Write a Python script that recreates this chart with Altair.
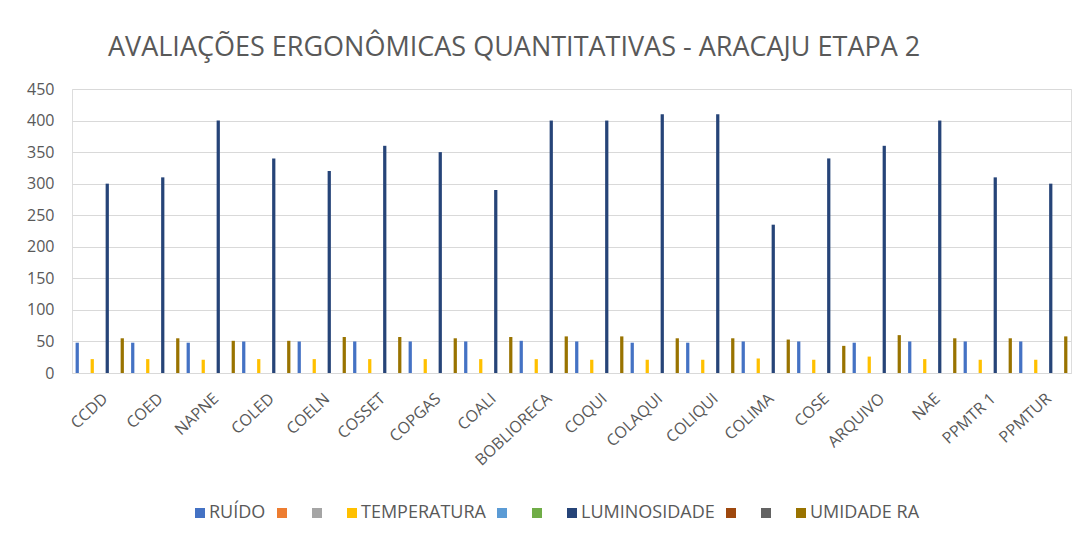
import altair as alt
import pandas as pd

categories = ["CCDD", "COED", "NAPNE", "COLED", "COELN", "COSSET", "COPGAS", "COALI",
              "BOBLIORECA", "COQUI", "COLAQUI", "COLIQUI", "COLIMA", "COSE", "ARQUIVO",
              "NAE", "PPMTR 1", "PPMTUR"]
ruido = [48, 48, 48, 50, 50, 50, 50, 50, 51, 50, 48, 48, 50, 50, 48, 50, 50, 50]
temperatura = [22, 22, 21, 22, 22, 22, 22, 22, 22, 21, 21, 21, 23, 21, 26, 22, 21, 21]
luminosidade = [300, 310, 400, 340, 320, 360, 350, 290, 400, 400, 410, 410, 235, 340, 360, 400, 310, 300]
umidade = [55, 55, 51, 51, 57, 57, 55, 57, 58, 58, 55, 55, 53, 43, 60, 55, 55, 58]

series_names = ["RUÍDO", "S2", "S3", "TEMPERATURA", "S5", "S6", "LUMINOSIDADE", "S8", "S9", "UMIDADE RA"]
series_colors = ["#4472C4", "#ED7D31", "#A5A5A5", "#FFC000", "#5B9BD5", "#70AD47",
                 "#264478", "#9E480E", "#636363", "#997300"]

rows = []
for name, vals in [("RUÍDO", ruido), ("TEMPERATURA", temperatura),
                   ("LUMINOSIDADE", luminosidade), ("UMIDADE RA", umidade)]:
    for c, v in zip(categories, vals):
        rows.append({"categoria": c, "serie": name, "valor": v})
df = pd.DataFrame(rows)

FONT = "Open Sans"
GRAY = "#595959"

chart = alt.Chart(df).mark_bar().encode(
    x=alt.X("categoria:N", sort=categories,
            scale=alt.Scale(paddingInner=0.13, paddingOuter=0.065),
            axis=alt.Axis(title=None, labelAngle=-43, labelFontSize=16, labelColor=GRAY,
                          labelFont=FONT, ticks=False, domainColor="#D9D9D9",
                          labelPadding=17)),
    xOffset=alt.XOffset("serie:N", scale=alt.Scale(domain=series_names, paddingInner=0.35, paddingOuter=0)),
    y=alt.Y("valor:Q", scale=alt.Scale(domain=[0, 450]),
            axis=alt.Axis(title=None, values=list(range(0, 451, 50)), labelFontSize=16,
                          labelColor=GRAY, labelFont=FONT, ticks=False, domain=False,
                          gridColor="#D9D9D9", labelPadding=18)),
    color=alt.Color("serie:N", scale=alt.Scale(domain=series_names, range=series_colors),
                    legend=alt.Legend(title=None, orient="none", direction="horizontal",
                                      legendX=119, legendY=415, symbolType="square",
                                      symbolSize=100, symbolStrokeWidth=0, labelFontSize=18,
                                      labelColor=alt.ExprRef(expr="length(datum.label) < 3 ? 'rgba(0,0,0,0)' : '#595959'"),
                                      labelFont=FONT, columnPadding=7,
                                      labelOffset=0, columns=10,
                                      labelExpr="length(datum.label) < 3 ? 'x' : datum.label")),
).properties(
    width=999, height=284,
    title=alt.TitleParams("AVALIAÇÕES ERGONÔMICAS QUANTITATIVAS - ARACAJU ETAPA 2",
                          anchor="start", frame="group", dx=36, fontSize=27, font=FONT,
                          fontWeight="normal", color=GRAY, offset=19),
    autosize=alt.AutoSizeParams(type="none"),
    padding={"left": 64, "top": 81, "right": 5, "bottom": 150},
).configure_view(stroke=None).configure(background="white")

chart.save("out.html", embed_options={"renderer": "svg", "actions": False})
